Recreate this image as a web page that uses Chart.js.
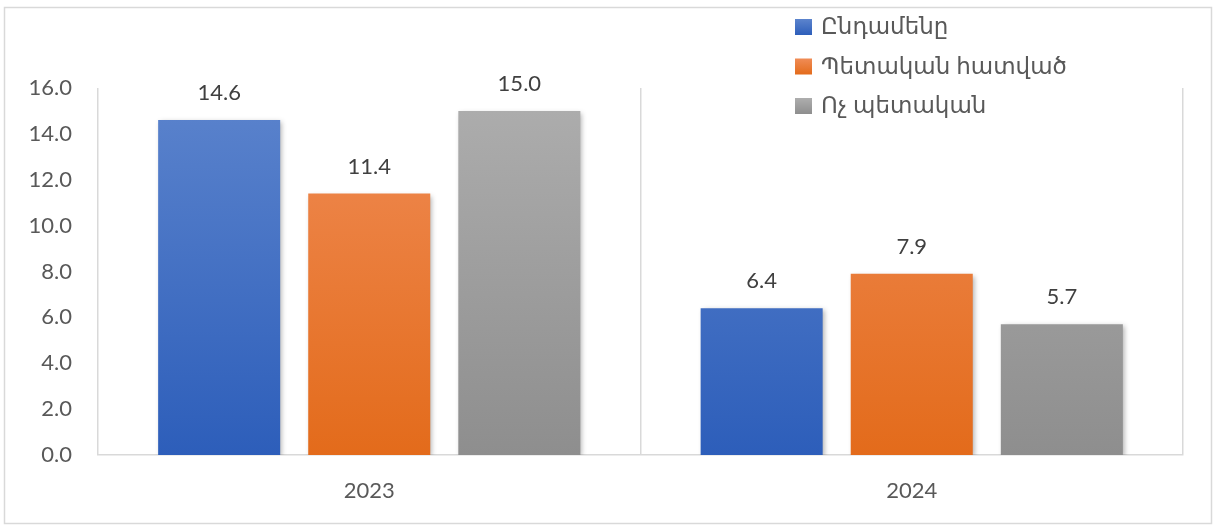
<!DOCTYPE html>
<html>
<head>
<meta charset="utf-8">
<script src="https://cdn.jsdelivr.net/npm/chart.js@4"></script>
<style>
  html, body { margin: 0; padding: 0; background: #fff; }
  #wrap { width: 1214px; height: 526px; }
</style>
</head>
<body>
<div id="wrap"><canvas id="barChart" width="1214" height="526"></canvas></div>
<script>
const years = ["2023", "2024"];
const seriesNames = ["Ընդամենը", "Պետական հատված", "Ոչ պետական"];
const totalVals = [14.6, 6.4];
const publicVals = [11.4, 7.9];
const privateVals = [15.0, 5.7];
const yTicks = [0, 2, 4, 6, 8, 10, 12, 14, 16];

const FONT = "Lato, 'DejaVu Sans', sans-serif";
// top / bottom colours of each bar gradient
const shades = [
  ["#5c84cd", "#2d5eba"],
  ["#f08c56", "#e36b1b"],
  ["#aeaeae", "#8e8e8e"]
];

function barFill(i) {
  return (c) => {
    const area = c.chart.chartArea;
    if (!area) return shades[i][1];
    const g = c.chart.ctx.createLinearGradient(0, area.top, 0, area.bottom);
    g.addColorStop(0, shades[i][0]);
    g.addColorStop(1, shades[i][1]);
    return g;
  };
}

const frame = {
  id: "frame",
  beforeDraw(chart) {
    const ctx = chart.ctx;
    ctx.save();
    ctx.strokeStyle = "#d9d9d9";
    ctx.lineWidth = 1.5;
    ctx.strokeRect(4.5, 7.5, 1207, 516);
    ctx.restore();
  }
};

const barShadow = {
  id: "barShadow",
  beforeDatasetsDraw(chart) {
    const ctx = chart.ctx;
    ctx.save();
    ctx.shadowColor = "rgba(0,0,0,0.3)";
    ctx.shadowBlur = 5;
    ctx.shadowOffsetX = 2;
    ctx.shadowOffsetY = 2;
  },
  afterDatasetsDraw(chart) {
    chart.ctx.restore();
  }
};

const valueLabels = {
  id: "valueLabels",
  afterDatasetsDraw(chart) {
    const ctx = chart.ctx;
    ctx.save();
    ctx.font = "22px " + FONT;
    ctx.fillStyle = "#404040";
    ctx.textAlign = "center";
    ctx.textBaseline = "middle";
    chart.data.datasets.forEach((ds, i) => {
      chart.getDatasetMeta(i).data.forEach((bar, j) => {
        ctx.fillText(ds.data[j].toFixed(1), bar.x, bar.y - 27);
      });
    });
    ctx.restore();
  }
};

const sideLegend = {
  id: "sideLegend",
  afterDraw(chart) {
    const ctx = chart.ctx;
    ctx.save();
    ctx.font = "23px " + FONT;
    ctx.textBaseline = "middle";
    chart.data.datasets.forEach((ds, i) => {
      const y = 27 + i * 39.5;
      const g = ctx.createLinearGradient(0, y - 8, 0, y + 8);
      g.addColorStop(0, shades[i][0]);
      g.addColorStop(1, shades[i][1]);
      ctx.fillStyle = g;
      ctx.fillRect(795, y - 8, 17, 16);
      ctx.fillStyle = "#595959";
      ctx.fillText(ds.label, 821, y);
    });
    ctx.restore();
  }
};

const chart = new Chart(document.getElementById("barChart"), {
  type: "bar",
  data: {
    labels: years,
    datasets: [
      { label: seriesNames[0], data: totalVals, backgroundColor: barFill(0) },
      { label: seriesNames[1], data: publicVals, backgroundColor: barFill(1) },
      { label: seriesNames[2], data: privateVals, backgroundColor: barFill(2) }
    ]
  },
  options: {
    responsive: false,
    animation: false,
    categoryPercentage: 0.83,
    barPercentage: 0.813,
    layout: { padding: { left: 0, right: 31, top: 88, bottom: 20 } },
    plugins: {
      legend: { display: false },
      tooltip: { enabled: false }
    },
    scales: {
      x: {
        grid: { display: true, offset: true, color: "#d9d9d9", lineWidth: 1.5, drawTicks: false },
        border: { color: "#d9d9d9", width: 1.5 },
        ticks: { color: "#595959", font: { size: 22, family: FONT }, padding: 23 },
        afterFit(scale) { scale.height = 51; }
      },
      y: {
        min: 0,
        max: 16,
        grid: { display: false, drawTicks: false },
        border: { display: false },
        afterBuildTicks(scale) { scale.ticks = yTicks.map(v => ({ value: v })); },
        ticks: {
          color: "#595959",
          font: { size: 22, family: FONT },
          padding: 26,
          callback: v => v.toFixed(1)
        },
        afterFit(scale) { scale.width = 98; }
      }
    }
  },
  plugins: [frame, barShadow, valueLabels, sideLegend]
});
</script>
</body>
</html>
